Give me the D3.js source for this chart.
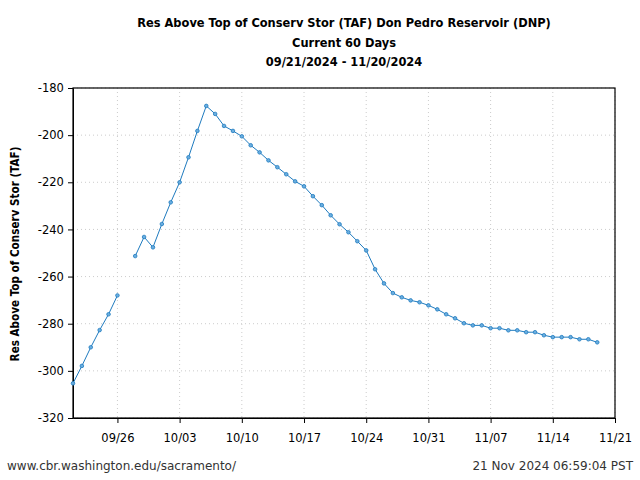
<!DOCTYPE html>
<html><head><meta charset="utf-8">
<script src="https://cdn.jsdelivr.net/npm/d3@7"></script>
<style>
body{margin:0;background:#fff;}
svg{display:block;}
</style></head>
<body>
<svg id="c" width="640" height="480"></svg>
<script>
const startDate = "2024-09-21";
const values = [-305.3,-297.9,-290,-282.7,-276,-268,null,-251.3,-243.2,-247.6,-237.7,-228.5,-220,-209.4,-198.2,-187.6,-191,-196.1,-198.2,-200.5,-204.3,-207.3,-210.7,-213.6,-216.6,-219.6,-221.7,-225.9,-229.7,-234,-237.8,-241.2,-245,-248.9,-256.9,-262.9,-267,-268.8,-270.1,-270.9,-272.2,-273.9,-276,-277.7,-279.8,-280.7,-280.7,-281.9,-281.9,-282.8,-282.8,-283.6,-283.6,-284.9,-285.7,-285.7,-285.7,-286.6,-286.6,-287.9];
const xTickLabels = ["09/26","10/03","10/10","10/17","10/24","10/31","11/07","11/14","11/21"];
const yTicks = [-320,-300,-280,-260,-240,-220,-200,-180];
const titleLines = ["Res Above Top of Conserv Stor (TAF) Don Pedro Reservoir (DNP)","Current 60 Days","09/21/2024 - 11/20/2024"];
const yLabel = "Res Above Top of Conserv Stor (TAF)";
const footerLeft = "www.cbr.washington.edu/sacramento/";
const footerRight = "21 Nov 2024 06:59:04 PST";

const parse = d3.utcParse("%Y-%m-%d");
const t0 = parse(startDate);
const data = values.map((v,i)=>({date:d3.utcDay.offset(t0,i), v}));
const tickDates = xTickLabels.map(s=>{const [m,d]=s.split("/").map(Number); return new Date(Date.UTC(2024,m-1,d));});

const svg = d3.select("#c");
const L=73,R=615,T=88,B=418;
const x = d3.scaleUtc().domain([t0, new Date(Date.UTC(2024,10,21))]).range([L,R]);
const y = d3.scaleLinear().domain([-320,-180]).range([B,T]);

// grid
const g = svg.append("g");
g.selectAll(".gx").data(tickDates).join("line")
  .attr("x1",d=>x(d)).attr("x2",d=>x(d)).attr("y1",T).attr("y2",B)
  .attr("stroke","#ccc").attr("stroke-dasharray","1,3");
g.selectAll(".gy").data(yTicks).join("line")
  .attr("x1",L).attr("x2",R).attr("y1",d=>y(d)).attr("y2",d=>y(d))
  .attr("stroke","#ccc").attr("stroke-dasharray","1,3");

// axes
const xAxis = d3.axisBottom(x).tickValues(tickDates).tickFormat((d,i)=>xTickLabels[i]).tickSize(5).tickSizeOuter(0);
const yAxis = d3.axisLeft(y).tickValues(yTicks).tickFormat(d=>String(d)).tickSize(5).tickSizeOuter(0);
const ax = svg.append("g").attr("transform",`translate(0,${B})`).call(xAxis);
const ay = svg.append("g").attr("transform",`translate(${L},0)`).call(yAxis);
[ax,ay].forEach(a=>{a.selectAll("text").attr("font-family","DejaVu Sans").attr("font-size",11.5).attr("fill","#000");
  a.selectAll("line,path").attr("stroke","#000");});
ax.selectAll("text").attr("dy","1.35em");
ay.selectAll("text").attr("dx","-0.1em");
// frame
svg.append("rect").attr("x",L).attr("y",T).attr("width",R-L).attr("height",B-T)
  .attr("fill","none").attr("stroke","#000").attr("stroke-width",1.2);

// line
const line = d3.line().defined(d=>d.v!==null).x(d=>x(d.date)).y(d=>y(d.v));
svg.append("path").datum(data).attr("d",line).attr("fill","none").attr("stroke","#1f7bbf").attr("stroke-width",1);
svg.selectAll(".pt").data(data.filter(d=>d.v!==null)).join("circle")
  .attr("cx",d=>x(d.date)).attr("cy",d=>y(d.v)).attr("r",1.8)
  .attr("fill","#6aaee0").attr("stroke","#1f7bbf").attr("stroke-width",0.8);

// titles
svg.selectAll(".tt").data(titleLines).join("text")
  .attr("x",344).attr("y",(d,i)=>27+i*19.5).attr("text-anchor","middle")
  .attr("font-family","DejaVu Sans Condensed, DejaVu Sans").attr("font-weight","bold").attr("font-size",12.7)
  .text(d=>d);
svg.append("text").attr("transform",`translate(19,${(T+B)/2 + 1}) rotate(-90)`).attr("text-anchor","middle")
  .attr("font-family","DejaVu Sans Condensed, DejaVu Sans").attr("font-weight","bold").attr("font-size",11.6)
  .text(yLabel);
svg.append("text").attr("x",7).attr("y",470).attr("font-family","DejaVu Sans").attr("font-size",12).attr("fill","#333").text(footerLeft);
svg.append("text").attr("x",633).attr("y",470).attr("text-anchor","end").attr("font-family","DejaVu Sans").attr("font-size",12).attr("fill","#333").text(footerRight);
</script>
</body></html>
